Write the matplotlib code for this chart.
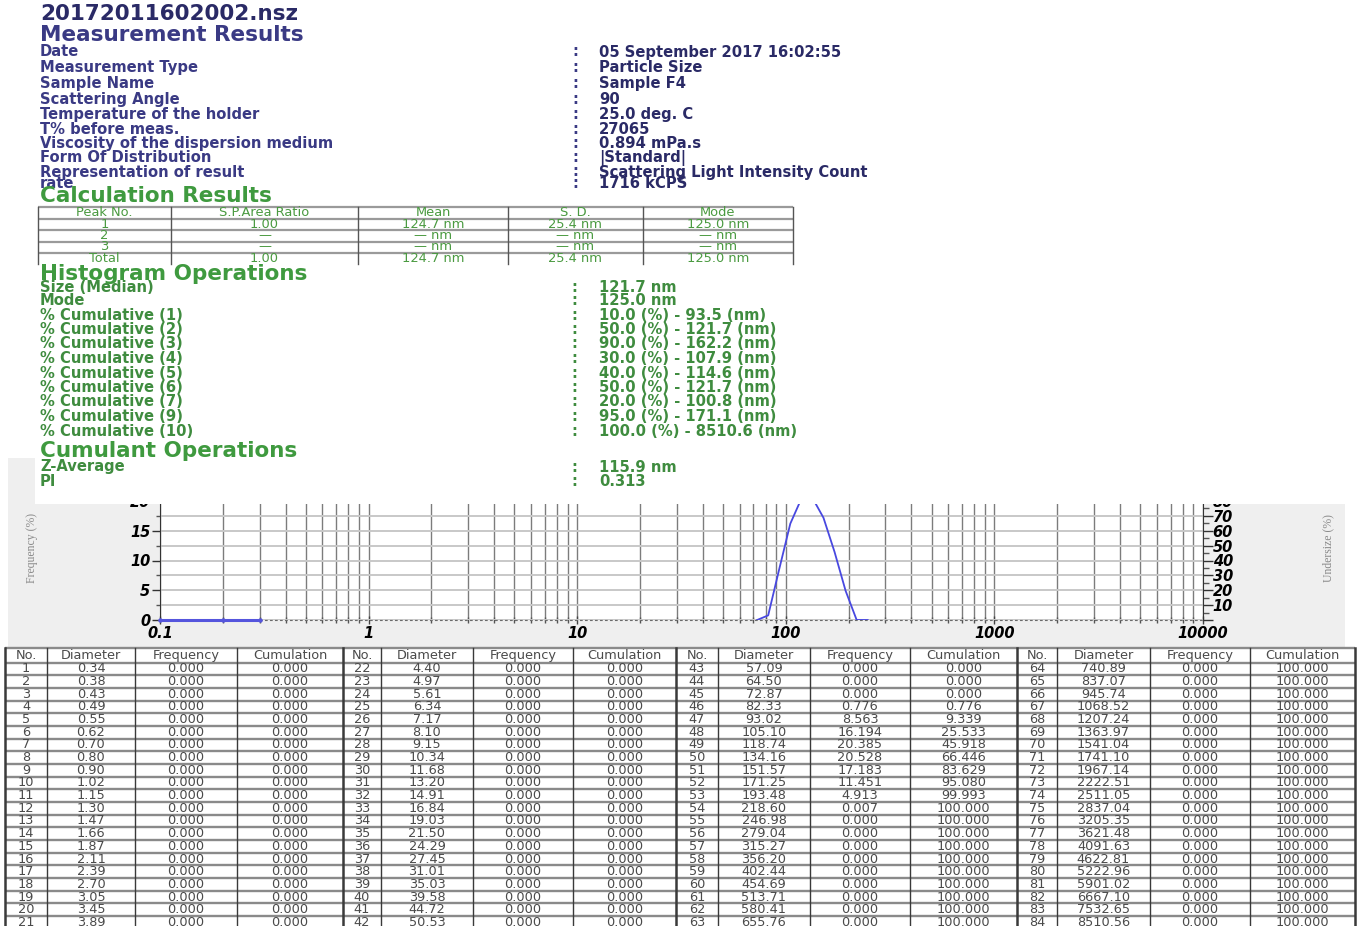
import numpy as np
import matplotlib
matplotlib.use("Agg")
import matplotlib.pyplot as plt
from matplotlib.patches import Rectangle
from matplotlib.ticker import FixedLocator, MultipleLocator, NullFormatter

# ---------------- report data ----------------
file_name = "20172011602002.nsz"

measurement_labels = [
    "Date", "Measurement Type", "Sample Name", "Scattering Angle",
    "Temperature of the holder", "T% before meas.",
    "Viscosity of the dispersion medium", "Form Of Distribution",
    "Representation of result", "rate",
]
measurement_values = [
    "05 September 2017 16:02:55", "Particle Size", "Sample F4", "90",
    "25.0 deg. C", "27065", "0.894 mPa.s", "|Standard|",
    "Scattering Light Intensity Count", "1716 kCPS",
]

peak_names = ["1", "2", "3", "Total"]
peak_area_ratio = [1.00, None, None, 1.00]
peak_mean_nm = [124.7, None, None, 124.7]
peak_sd_nm = [25.4, None, None, 25.4]
peak_mode_nm = [125.0, None, None, 125.0]

median_nm = 121.7
mode_nm = 125.0
cumulative_numbers = [1, 2, 3, 4, 5, 6, 7, 9, 10]
cumulative_percent = [10.0, 50.0, 90.0, 30.0, 40.0, 50.0, 20.0, 95.0, 100.0]
cumulative_size_nm = [93.5, 121.7, 162.2, 107.9, 114.6, 121.7, 100.8, 171.1, 8510.6]

z_average_nm = 115.9
polydispersity_index = 0.313

# size classes (nm), frequency (%) and cumulation (%)
diameter_nm = [
    0.34, 0.38, 0.43, 0.49, 0.55, 0.62, 0.70, 0.80, 0.90, 1.02, 1.15,
    1.30, 1.47, 1.66, 1.87, 2.11, 2.39, 2.70, 3.05, 3.45, 3.89,
    4.40, 4.97, 5.61, 6.34, 7.17, 8.10, 9.15, 10.34, 11.68, 13.20, 14.91,
    16.84, 19.03, 21.50, 24.29, 27.45, 31.01, 35.03, 39.58, 44.72, 50.53,
    57.09, 64.50, 72.87, 82.33, 93.02, 105.10, 118.74, 134.16, 151.57, 171.25, 193.48,
    218.60, 246.98, 279.04, 315.27, 356.20, 402.44, 454.69, 513.71, 580.41, 655.76,
    740.89, 837.07, 945.74, 1068.52, 1207.24, 1363.97, 1541.04, 1741.10, 1967.14, 2222.51, 2511.05,
    2837.04, 3205.35, 3621.48, 4091.63, 4622.81, 5222.96, 5901.02, 6667.10, 7532.65, 8510.56,
]
frequency_pct = [
    0.000, 0.000, 0.000, 0.000, 0.000, 0.000, 0.000, 0.000, 0.000, 0.000, 0.000,
    0.000, 0.000, 0.000, 0.000, 0.000, 0.000, 0.000, 0.000, 0.000, 0.000,
    0.000, 0.000, 0.000, 0.000, 0.000, 0.000, 0.000, 0.000, 0.000, 0.000, 0.000,
    0.000, 0.000, 0.000, 0.000, 0.000, 0.000, 0.000, 0.000, 0.000, 0.000,
    0.000, 0.000, 0.000, 0.776, 8.563, 16.194, 20.385, 20.528, 17.183, 11.451, 4.913,
    0.007, 0.000, 0.000, 0.000, 0.000, 0.000, 0.000, 0.000, 0.000, 0.000,
    0.000, 0.000, 0.000, 0.000, 0.000, 0.000, 0.000, 0.000, 0.000, 0.000, 0.000,
    0.000, 0.000, 0.000, 0.000, 0.000, 0.000, 0.000, 0.000, 0.000, 0.000,
]
cumulation_pct = [
    0.000, 0.000, 0.000, 0.000, 0.000, 0.000, 0.000, 0.000, 0.000, 0.000, 0.000,
    0.000, 0.000, 0.000, 0.000, 0.000, 0.000, 0.000, 0.000, 0.000, 0.000,
    0.000, 0.000, 0.000, 0.000, 0.000, 0.000, 0.000, 0.000, 0.000, 0.000, 0.000,
    0.000, 0.000, 0.000, 0.000, 0.000, 0.000, 0.000, 0.000, 0.000, 0.000,
    0.000, 0.000, 0.000, 0.776, 9.339, 25.533, 45.918, 66.446, 83.629, 95.080, 99.993,
    100.000, 100.000, 100.000, 100.000, 100.000, 100.000, 100.000, 100.000, 100.000, 100.000,
    100.000, 100.000, 100.000, 100.000, 100.000, 100.000, 100.000, 100.000, 100.000, 100.000, 100.000,
    100.000, 100.000, 100.000, 100.000, 100.000, 100.000, 100.000, 100.000, 100.000, 100.000,
]

# sub-range bins shown below the first tabulated class
low_bins_nm = [0.1, 0.2, 0.3]
low_bins_pct = [0.0, 0.0, 0.0]

x_ticks = [0.1, 1, 10, 100, 1000, 10000]
freq_ticks = [0, 5, 10, 15, 20]
undersize_ticks = [0, 10, 20, 30, 40, 50, 60, 70, 80]

# ---------------- figure ----------------
W, H, DPI = 1361, 926, 100
fig = plt.figure(figsize=(W / DPI, H / DPI), dpi=DPI, facecolor="white")

SANS = ["DejaVu Sans"]


def px_axes(zorder):
    a = fig.add_axes([0, 0, 1, 1], zorder=zorder)
    a.set_xlim(0, W)
    a.set_ylim(H, 0)
    a.set_axis_off()
    a.patch.set_visible(False)
    return a


back = px_axes(0)
front = px_axes(5)

NAVY = "#3a3a84"
NAVY_DARK = "#2a2a66"
GREEN_HEAD = "#3f9a3f"
GREEN = "#3f8c3f"
HEAD = dict(fontfamily=SANS, fontweight="bold", va="center", ha="left", fontsize=15.5)
ROW = dict(fontfamily=SANS, fontweight="bold", va="center", ha="left", fontsize=10.6)

# ---- measurement header ----
front.text(40, 14, file_name, color=NAVY_DARK, **HEAD)
front.text(40, 35, "Measurement Results", color=NAVY, **HEAD)
row_y = [52, 67.5, 83.5, 99.5, 114.5, 129, 143.5, 158, 172, 183.5]
for y, lab, val in zip(row_y, measurement_labels, measurement_values):
    front.text(40, y, lab, color=NAVY, **ROW)
    front.text(572, y, ":", color=NAVY, **ROW)
    front.text(599, y, val, color=NAVY_DARK, **ROW)

front.text(40, 196, "Calculation Results", color=GREEN_HEAD, **HEAD)

# ---- peak table ----
peak_cols = [38, 171, 358, 508, 643, 793]
peak_hlines = [207, 218.5, 230, 241.5, 253]
peak_bottom = 264
for y in peak_hlines:
    front.plot([peak_cols[0], peak_cols[-1]], [y, y], color="#9a9a9a", lw=1.6,
               solid_capstyle="butt")
for x in peak_cols:
    front.plot([x, x], [peak_hlines[0], peak_bottom], color="#555555", lw=1.0)


def fmt(v, unit=""):
    if v is None:
        return "—" + (" " + unit if unit else "")
    return f"{v:.2f}" if not unit else f"{v:.1f} {unit}"


peak_header = ["Peak No.", "S.P.Area Ratio", "Mean", "S. D.", "Mode"]
peak_rows = [peak_header] + [
    [n, fmt(a), fmt(m, "nm"), fmt(s, "nm"), fmt(d, "nm")]
    for n, a, m, s, d in zip(peak_names, peak_area_ratio, peak_mean_nm, peak_sd_nm, peak_mode_nm)
]
peak_row_y = [212.5, 224, 235.5, 247, 258]
for y, row in zip(peak_row_y, peak_rows):
    for c, cell in enumerate(row):
        xc = 0.5 * (peak_cols[c] + peak_cols[c + 1])
        front.text(xc, y, cell, fontsize=9.4, color="#4a9a40", ha="center", va="center",
                   fontfamily=SANS)

# ---- histogram / cumulant operations ----
front.text(40, 274, "Histogram Operations", color=GREEN_HEAD, **HEAD)
hist_labels = ["Size (Median)", "Mode"] + [f"% Cumulative ({n})" for n in cumulative_numbers]
hist_values = [f"{median_nm:.1f} nm", f"{mode_nm:.1f} nm"] + [
    f"{p:.1f} (%) - {s:.1f} (nm)" for p, s in zip(cumulative_percent, cumulative_size_nm)
]
hist_y = [287, 300.5, 315, 329.5, 344, 358.5, 373, 387.5, 402, 416.5, 431]
for y, lab, val in zip(hist_y, hist_labels, hist_values):
    front.text(40, y, lab, color=GREEN, **ROW)
    front.text(571, y, ":", color=GREEN, **ROW)
    front.text(599, y, val, color=GREEN, **ROW)

front.text(40, 451, "Cumulant Operations", color=GREEN_HEAD, **HEAD)
for y, lab, val in zip([467, 481], ["Z-Average", "PI"],
                       [f"{z_average_nm:.1f} nm", f"{polydispersity_index:.3f}"]):
    front.text(40, y, lab, color=GREEN, **ROW)
    front.text(571, y, ":", color=GREEN, **ROW)
    front.text(599, y, val, color=GREEN, **ROW)

# ---- chart panel ----
back.add_patch(Rectangle((8, 458), 1337, 189, facecolor="#efefef", edgecolor="none"))
front.add_patch(Rectangle((35, 440), 1310, 63.5, facecolor="white", edgecolor="none",
                          zorder=0))

ax = fig.add_axes([160 / W, (H - 620) / H, 1043 / W, 119 / H], zorder=1)
ax.set_facecolor("white")
ax.set_xscale("log")
ax.set_xlim(0.1, 10000)
ax.set_ylim(0, 20)

freq = np.array(frequency_pct)
nz = freq > 0
shown = nz | np.roll(nz, 1) | np.roll(nz, -1)
ax.plot(diameter_nm, np.ma.masked_where(~shown, freq), color="#4848e0", lw=1.3,
        zorder=3, clip_on=True)
ax.plot(low_bins_nm, low_bins_pct, color="#5555dd", lw=2.2, marker="o", ms=2.2,
        zorder=3, clip_on=False)

minor_x = [m * 10.0 ** e for e in range(-1, 4) for m in range(2, 10)]
ax.xaxis.set_major_locator(FixedLocator(x_ticks))
ax.xaxis.set_minor_locator(FixedLocator(minor_x))
ax.set_xticklabels([f"{v:g}" for v in x_ticks], fontweight="bold", fontstyle="italic",
                   fontsize=10.5)
ax.xaxis.set_minor_formatter(NullFormatter())
ax.set_yticks(freq_ticks)
ax.set_yticklabels([str(v) for v in freq_ticks], fontweight="bold", fontstyle="italic",
                   fontsize=10.5)
ax.yaxis.set_minor_locator(MultipleLocator(2.5))
ax.grid(True, which="both", axis="x", color="#7c7c7c", lw=1.0, zorder=1)
ax.grid(True, which="both", axis="y", color="#c8c8c8", lw=1.4, zorder=1)
ax.set_axisbelow(True)
ax.tick_params(axis="x", which="major", direction="inout", length=6, width=1,
               color="#444444", pad=1)
ax.tick_params(axis="x", which="minor", direction="inout", length=4, width=1,
               color="#555555")
ax.tick_params(axis="y", which="major", direction="out", length=6, width=1,
               color="#333333", pad=1)
ax.tick_params(axis="y", which="minor", direction="out", length=3, width=1,
               color="#555555")
for side in ("top", "right"):
    ax.spines[side].set_visible(False)
ax.spines["left"].set_color("#333333")
ax.spines["bottom"].set_color("#6a6a6a")
ax.spines["bottom"].set_linestyle((0, (1.5, 3)))

ax2 = ax.twinx()
ax2.set_zorder(2)
ax2.patch.set_visible(False)
ax2.set_ylim(0, 80)
ax2.set_yticks(undersize_ticks)
ax2.set_yticklabels(["" if v == 0 else str(v) for v in undersize_ticks],
                    fontweight="bold", fontstyle="italic", fontsize=10.5)
ax2.yaxis.set_minor_locator(MultipleLocator(5))
ax2.tick_params(axis="y", which="major", direction="out", length=7, width=1,
                color="#333333", pad=0)
ax2.tick_params(axis="y", which="minor", direction="out", length=4, width=1,
                color="#555555")
for side in ("top", "left", "bottom"):
    ax2.spines[side].set_visible(False)
ax2.spines["right"].set_color("#333333")

back.text(32, 548, "Frequency (%)", rotation=90, fontsize=8.5, color="#8a8a8a",
          fontfamily="Liberation Serif", ha="center", va="center")
back.text(1328, 548, "Undersize (%)", rotation=90, fontsize=8.5, color="#8a8a8a",
          fontfamily="Liberation Serif", ha="center", va="center")

# ---- class table ----
tab = px_axes(6)
col_edges = [5, 47, 135, 237, 343, 381, 473, 573, 676, 718, 810, 910, 1017, 1057,
             1150, 1250, 1355]
head_top, head_bot = 648, 662.5
row_h = 12.68
n_rows = 21
tab.add_patch(Rectangle((col_edges[0], head_top), col_edges[-1] - col_edges[0],
                        H - head_top + 5, facecolor="white", edgecolor="none"))
hl = [head_top, head_bot] + [head_bot + row_h * (i + 1) for i in range(n_rows)]
for y in hl:
    tab.plot([col_edges[0], col_edges[-1]], [y, y], color="#8a8a8a", lw=1.7,
             solid_capstyle="butt", clip_on=False)
for i, x in enumerate(col_edges):
    heavy = i % 4 == 0
    tab.plot([x, x], [head_top, H + 5], color="#3a3a3a", lw=1.8 if heavy else 1.0,
             clip_on=False)

table_header = ["No.", "Diameter", "Frequency", "Cumulation"]
CELL = dict(fontsize=9.3, color="#4a4a4a", ha="center", va="center", fontfamily=SANS)
for g in range(4):
    for c, name in enumerate(table_header):
        k = g * 4 + c
        tab.text(0.5 * (col_edges[k] + col_edges[k + 1]), 0.5 * (head_top + head_bot),
                 name, **CELL)
    for r in range(n_rows):
        n = g * n_rows + r
        yc = head_bot + row_h * (r + 0.5)
        cells = [str(n + 1), f"{diameter_nm[n]:.2f}", f"{frequency_pct[n]:.3f}",
                 f"{cumulation_pct[n]:.3f}"]
        for c, s in enumerate(cells):
            k = g * 4 + c
            tab.text(0.5 * (col_edges[k] + col_edges[k + 1]), yc, s, **CELL)

fig.savefig("out.png", dpi=DPI, facecolor="white")
